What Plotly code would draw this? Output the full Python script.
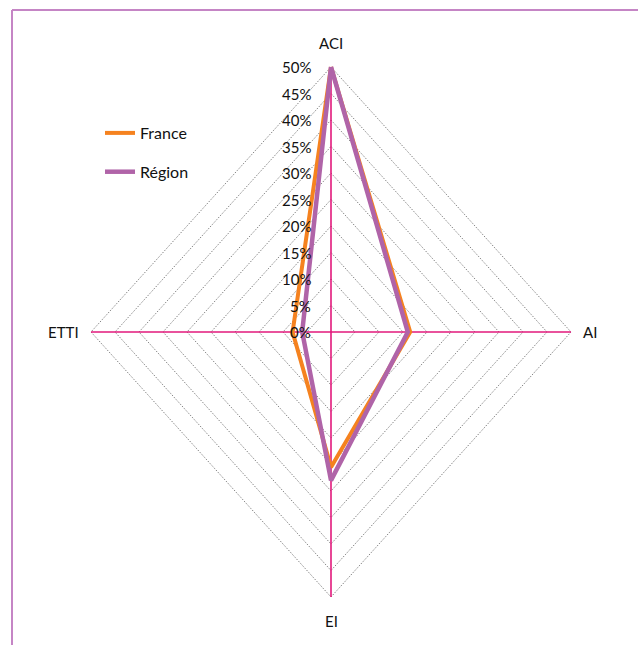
import numpy as np
import plotly.graph_objects as go

# Categories clockwise from the top
categories = ["ACI", "AI", "EI", "ETTI"]
france = [50.0, 16.5, 25.5, 8.0]
region = [50.0, 16.0, 28.0, 6.0]
tick_values = [0, 5, 10, 15, 20, 25, 30, 35, 40, 45, 50]
tick_labels = [f"{v}%" for v in tick_values]
series_names = ["France", "Région"]

R_MAX = 50.0
W, H = 638, 645
CX, CY = 331, 332          # pixel position of the centre
PX_X = 240 / R_MAX         # horizontal pixels per unit
PX_Y = 265 / R_MAX         # vertical pixels per unit

angles = np.deg2rad(np.arange(len(categories)) * 360 / len(categories))


def to_xy(values):
    r = np.asarray(values, dtype=float)
    x = r * np.sin(angles)
    y = r * np.cos(angles)
    return np.append(x, x[0]), np.append(y, y[0])


fig = go.Figure()

# Dotted grid polygons
for v in tick_values[1:]:
    gx, gy = to_xy([v] * len(categories))
    fig.add_trace(go.Scatter(x=gx, y=gy, mode="lines", hoverinfo="skip",
                             line=dict(color="#858585", width=1, dash="1.5px,1.5px"),
                             showlegend=False))

# Spokes
axis_color = "#e2187b"
for a in angles:
    fig.add_trace(go.Scatter(x=[0, R_MAX * np.sin(a)], y=[0, R_MAX * np.cos(a)],
                             mode="lines", hoverinfo="skip",
                             line=dict(color=axis_color, width=1.6),
                             showlegend=False))

# Data series
colors = ["#f5821f", "#b064a8"]
widths = [4, 4.5]
for name, vals, col, w in zip(series_names, [france, region], colors, widths):
    sx, sy = to_xy(vals)
    fig.add_trace(go.Scatter(x=sx, y=sy, mode="lines", name=name,
                             legendgroup=name,
                             line=dict(color=col, width=w)))

font = dict(family="Lato, Calibri, sans-serif", size=15, color="#111111")
legend_font = dict(family="Lato, Calibri, sans-serif", size=16, color="#111111")

# Radial tick labels along the upper spoke
for v, lab in zip(tick_values, tick_labels):
    fig.add_annotation(x=0, y=v, text=lab, showarrow=False, xanchor="right",
                       yanchor="middle", xshift=-18, font=font)

# Category labels
label_pos = {
    "ACI": dict(xanchor="center", yanchor="middle", xshift=0, yshift=24),
    "AI": dict(xanchor="left", yanchor="middle", xshift=10, yshift=0),
    "EI": dict(xanchor="center", yanchor="middle", xshift=0, yshift=-24),
    "ETTI": dict(xanchor="right", yanchor="middle", xshift=-10, yshift=0),
}
for cat, a in zip(categories, angles):
    fig.add_annotation(x=R_MAX * np.sin(a), y=R_MAX * np.cos(a), text=cat,
                       showarrow=False, font=font, **label_pos[cat])

# Outer frame (left and top edges)
border = "#c585c5"
bx = 12 / W
by = 1 - 10 / H
fig.add_shape(type="line", xref="paper", yref="paper", x0=bx, y0=0, x1=bx, y1=by,
              line=dict(color=border, width=2))
fig.add_shape(type="line", xref="paper", yref="paper", x0=bx, y0=by, x1=1, y1=by,
              line=dict(color=border, width=2))

fig.update_xaxes(range=[-CX / PX_X, (W - CX) / PX_X], visible=False, fixedrange=True)
fig.update_yaxes(range=[-(H - CY) / PX_Y, CY / PX_Y], visible=False, fixedrange=True)

fig.update_layout(
    width=W, height=H,
    margin=dict(l=0, r=0, t=0, b=0),
    paper_bgcolor="white", plot_bgcolor="white",
    showlegend=True,
    legend=dict(x=100 / W, y=1 - 116 / H, xanchor="left", yanchor="top",
                font=legend_font, bgcolor="rgba(0,0,0,0)", tracegroupgap=15,
                traceorder="grouped"),
)

fig.write_html("out.html")
